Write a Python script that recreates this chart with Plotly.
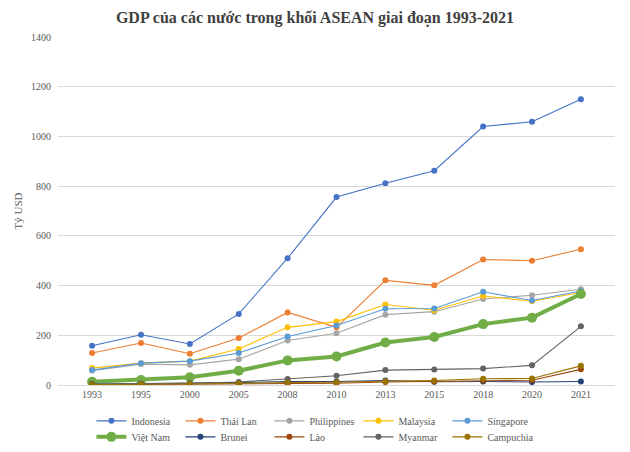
import plotly.graph_objects as go

years = ["1993", "1995", "2000", "2005", "2008", "2010", "2013", "2015", "2018", "2020", "2021"]

indonesia = [158, 202, 165, 286, 510, 756, 812, 862, 1040, 1059, 1150]
thai_lan = [129, 169, 126, 189, 292, 232, 421, 401, 505, 500, 546]
philippines = [58, 84, 81, 104, 179, 208, 283, 295, 346, 361, 385]
malaysia = [68, 88, 96, 145, 232, 255, 324, 301, 358, 337, 372]
singapore = [60, 88, 96, 129, 195, 239, 307, 308, 375, 340, 378]
viet_nam = [13, 20, 31, 57, 99, 115, 171, 193, 245, 271, 366]
brunei = [4, 5, 6, 10, 14, 14, 18, 13, 14, 12, 14]
lao = [1, 2, 2, 3, 5, 7, 12, 14, 18, 19, 63]
myanmar = [3, 5, 7, 12, 24, 37, 60, 62, 66, 79, 236]
campuchia = [2, 3, 4, 6, 10, 11, 15, 18, 25, 26, 77]

series = [
    ("Indonesia", indonesia, "#4472C4"),
    ("Thái Lan", thai_lan, "#ED7D31"),
    ("Philippines", philippines, "#A5A5A5"),
    ("Malaysia", malaysia, "#FFC000"),
    ("Singapore", singapore, "#5B9BD5"),
    ("Việt Nam", viet_nam, "#70AD47"),
    ("Brunei", brunei, "#264478"),
    ("Lào", lao, "#9E480E"),
    ("Myanmar", myanmar, "#636363"),
    ("Campuchia", campuchia, "#997300"),
]

fig = go.Figure()
for i, (name, vals, col) in enumerate(series):
    big = name == "Việt Nam"
    fig.add_trace(go.Scatter(
        x=years, y=vals, name=name, mode="lines+markers",
        line=dict(color=col, width=4 if big else 1.1),
        marker=dict(color=col, size=10 if big else 6),
        legend="legend" if i < 5 else "legend2",
    ))

font_family = "Liberation Serif"
leg_common = dict(orientation="h", x=0.06, xanchor="left", yanchor="middle",
                  entrywidth=44, entrywidthmode="pixels",
                  font=dict(family=font_family, size=10, color="#595959"),
                  itemwidth=30, bgcolor="rgba(0,0,0,0)")
fig.update_layout(
    width=630, height=452,
    paper_bgcolor="white", plot_bgcolor="white",
    margin=dict(l=58, r=15, t=37, b=67, autoexpand=False),
    font=dict(family=font_family, color="#595959", size=10),
    title=dict(text="<b>GDP của các nước trong khối ASEAN giai đoạn 1993-2021</b>",
               x=0.5, xanchor="center", y=0.962, yanchor="middle",
               font=dict(family=font_family, size=16, color="#404040")),
    xaxis=dict(type="category", showgrid=False, showline=True, linecolor="#d9d9d9",
               ticks="", tickfont=dict(size=10, color="#595959"), automargin=False),
    yaxis=dict(range=[0, 1400], dtick=200, showgrid=True, gridcolor="#d9d9d9",
               zeroline=True, zerolinecolor="#d9d9d9", ticks="",
               ticklabelstandoff=6, automargin=False,
               tickfont=dict(size=10, color="#595959"),
               title=dict(text="Tỷ USD", font=dict(size=11, color="#595959"), standoff=6)),
    legend=dict(y=-0.103, **leg_common),
    legend2=dict(y=-0.149, **leg_common),
    showlegend=True,
)

fig.write_html("out.html", config={"displayModeBar": False},
               post_script="document.body.style.margin='0';")
